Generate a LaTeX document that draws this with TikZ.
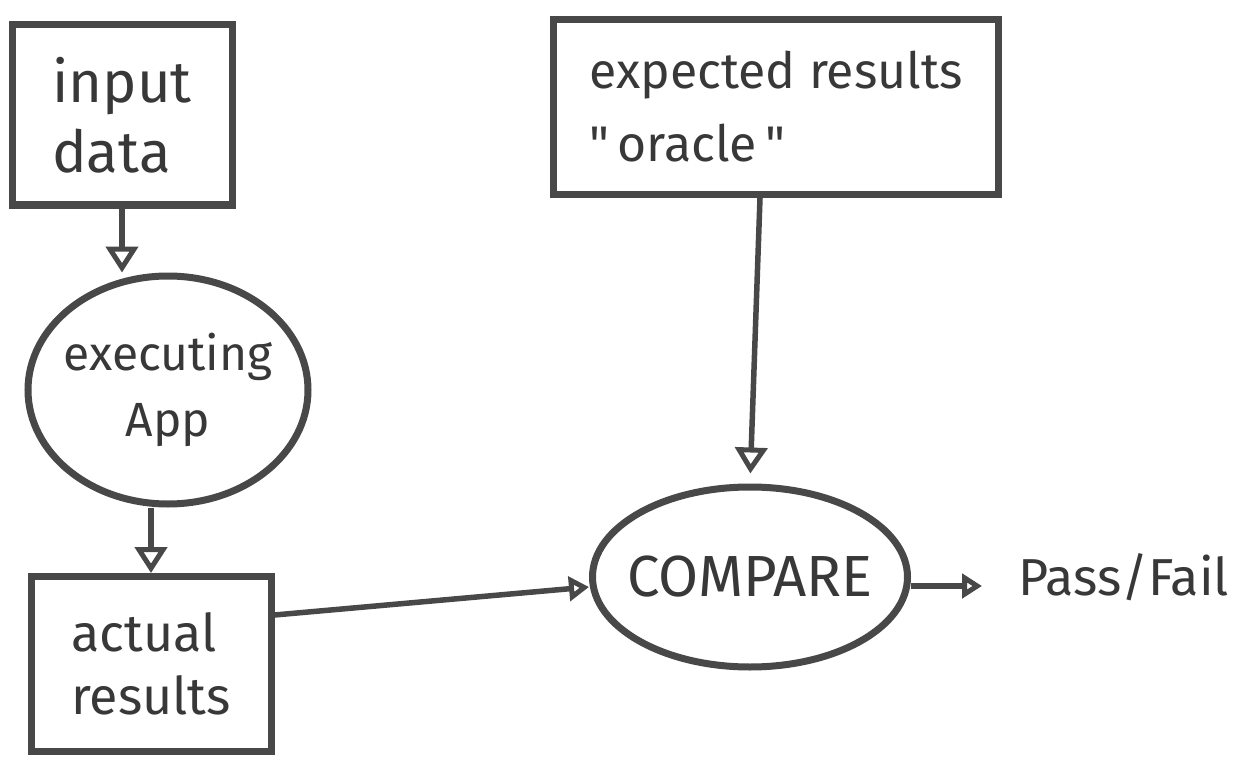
\documentclass[tikz,border=0pt]{standalone}
\usepackage{fontspec}
\setmainfont{Fira Sans}
\usetikzlibrary{arrows.meta,shapes.geometric}
\definecolor{pen}{HTML}{484848}
\definecolor{ink}{HTML}{383838}
\tikzset{
  box/.style={draw=pen, line width=7pt, rectangle, text=ink, align=left, inner sep=0pt},
  blob/.style={draw=pen, line width=7pt, ellipse, text=ink, align=center, inner sep=0pt},
  flow/.style={draw=pen, line width=5.5pt,
    -{Triangle[open, length=26pt, width=32pt, line width=5pt]}},
  flowsmall/.style={draw=pen, line width=5.5pt,
    -{Triangle[open, length=20pt, width=24pt, line width=5pt]}},
  label/.style={text=ink, inner sep=0pt}
}
\begin{document}
\begin{tikzpicture}[x=1pt,y=-1pt]
\useasboundingbox (0,0) rectangle (1243,757);
\fill[white] (0,0) rectangle (1243,757);

\node[box, minimum width=220pt, minimum height=180pt, font=\fontsize{58}{70}\selectfont] (inp) at (122,115) {input\\data};
\node[blob, inner xsep=-30pt, minimum width=280pt, minimum height=228pt, font=\fontsize{48}{66}\selectfont] (exec) at (168,390) {executing\\App};
\node[box, minimum width=240pt, minimum height=175pt, font=\fontsize{52}{63}\selectfont] (act) at (151,664) {actual\\results};
\node[box, minimum width=445pt, minimum height=175pt, font=\fontsize{50}{73}\selectfont] (exp) at (776,107) {expected results\\\textquotedbl\,oracle\,\textquotedbl};
\node[blob, inner xsep=-40pt, minimum width=315pt, minimum height=180pt, font=\fontsize{58}{70}\selectfont] (cmp) at (750,577) {COMPARE};
\node[label, anchor=west, font=\fontsize{52}{60}\selectfont] (pf) at (1018,577) {Pass/Fail};

\draw[flow] (inp.south) -- (inp.south |- exec.north);
\draw[flow] (exec.south -| act.north) -- (act.north);
\draw[flow, shorten >=10pt] ([xshift=-16pt]exp.south) -- (cmp.north);
\draw[flowsmall] ([yshift=49pt]act.east) -- ([yshift=-10pt]cmp.west);
\draw[flowsmall, shorten >=36pt] ([yshift=-9pt]cmp.east) -- ([yshift=-9pt]pf.west);
\end{tikzpicture}
\end{document}
